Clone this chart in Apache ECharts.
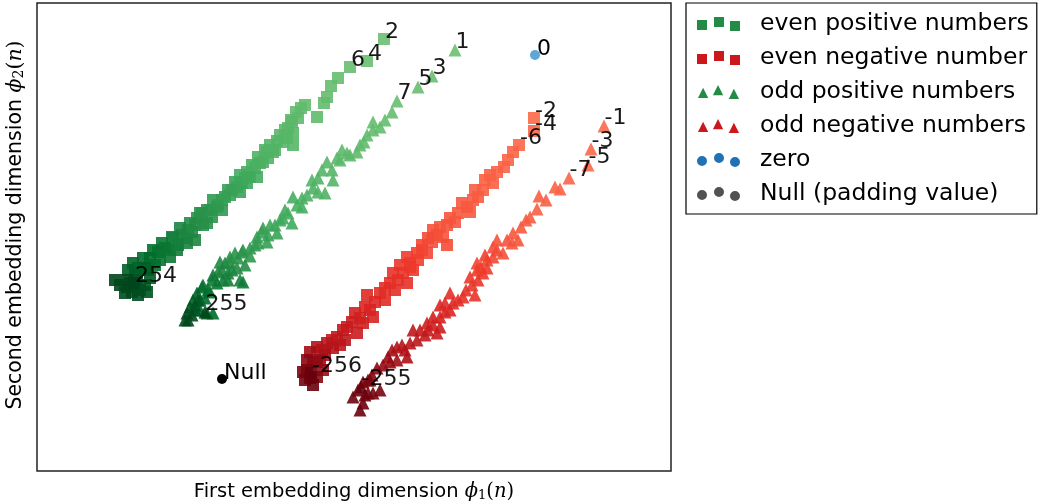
<!DOCTYPE html>
<html>
<head>
<meta charset="utf-8">
<script src="https://cdn.jsdelivr.net/npm/echarts@6/dist/echarts.min.js"></script>
<style>html,body{margin:0;padding:0;background:#fff}#c{width:1039px;height:502px}</style>
</head>
<body>
<div id="c"></div>
<script>
// values: [phi1, phi2, n]
const evenPositive = [
 [384,461,2],[367,439,4],[350,433,6],[338,422,8],[331,414,10],[327,403,12],[324,397,14],[301,392,16],
 [317,383,18],[298,382,20],[291,380,22],[292,378,24],[285,370,26],[283,358,28],[293,367,30],[293,355,32],
 [277,359,34],[273,348,36],[267,348,38],[265,350,40],[263,338,44],[260,337,48],[252,335,52],[247,328,56],
 [257,323,60],[245,322,64],[247,317,68],[242,317,72],[237,313,76],[232,310,80],[228,310,84],[225,303,88],
 [218,295,94],[217,293,98],[210,290,102],[207,290,106],[202,287,110],[200,287,114],[207,277,118],[195,275,122],
 [190,277,126],[188,270,132],[182,265,138],[180,272,142],[187,257,146],[173,262,150],[172,263,154],[177,250,160],
 [170,243,166],[162,257,172],[165,252,176],[158,248,180],[153,250,184],[150,242,190],[143,242,196],[148,230,200],
 [133,237,206],[145,232,210],[128,230,214],[135,225,218],[150,222,222],[140,210,226],[137,220,230],[145,215,234],
 [132,208,238],[138,205,242],[125,207,246],[127,213,248],[127,220,250],[115,220,252],[134,217,254],
 [305,395,15],[296,388,17],[288,372,25],[280,365,29],[287,362,31],[270,355,37],[275,350,39],[258,343,42],
 [268,342,43],[255,332,50],[240,325,62],[250,323,66],[235,318,74],[240,308,78],[230,305,82],[222,300,90],
 [213,300,96],[222,290,100],[212,283,108],[197,282,116],[203,275,120],[192,268,130],[185,262,136],[195,260,140],
 [178,255,156],[168,250,164],[160,240,174],[155,235,186],[138,232,204],[130,217,244],[147,208,232],[120,215,250]
];
const evenNegative = [
 [534,382,-2],[534,369,-4],[519,355,-6],[513,348,-8],[504,333,-10],[490,325,-12],[485,320,-14],[483,310,-16],
 [475,310,-18],[473,300,-20],[467,293,-22],[462,297,-24],[455,278,-26],[450,282,-28],[443,263,-30],[440,273,-32],
 [433,270,-34],[432,258,-38],[428,262,-42],[422,255,-46],[422,250,-50],[417,247,-54],[418,240,-58],[407,243,-62],
 [410,237,-66],[410,233,-70],[400,235,-74],[403,227,-78],[393,227,-82],[407,217,-86],[390,217,-90],[385,212,-94],
 [380,207,-98],[367,205,-104],[375,198,-110],[365,193,-116],[373,183,-122],[355,187,-128],[363,177,-134],[352,178,-140],
 [357,167,-148],[343,170,-156],[337,163,-164],[345,160,-170],[327,157,-178],[333,152,-184],[317,153,-192],[325,145,-198],
 [310,148,-206],[323,130,-214],[317,138,-220],[307,140,-226],[317,123,-232],[307,130,-238],[305,120,-244],[310,122,-250],
 [311,127,-256],
 [508,340,-9],[497,328,-11],[493,317,-13],[478,303,-19],[470,288,-23],[458,287,-25],[447,275,-31],[437,265,-36],
 [447,255,-40],[427,247,-48],[413,230,-72],[398,220,-88],[395,210,-92],[385,200,-100],[370,190,-118],[360,182,-130],
 [347,173,-150],[332,160,-160],[340,155,-168],[322,150,-186],[320,140,-210],[313,138,-218],[303,128,-240],[313,115,-252]
];
const oddPositive = [
 [455,450,1],[432,424,3],[418,413,5],[397,399,7],[392,388,9],[385,380,11],[373,378,13],[373,370,15],
 [364,358,17],[357,348,19],[347,347,21],[342,350,23],[340,340,25],[337,342,27],[327,338,29],[332,330,31],
 [333,320,35],[318,322,39],[325,307,43],[313,312,47],[302,302,51],[293,303,55],[302,293,59],[285,290,63],
 [292,277,67],[280,280,71],[270,275,75],[277,267,79],[262,268,83],[263,272,87],[267,258,91],[257,263,95],
 [255,255,99],[250,252,103],[243,250,107],[242,248,111],[235,247,115],[230,243,119],[245,235,123],[237,232,127],
 [225,237,131],[220,238,135],[232,230,139],[222,230,143],[228,227,147],[240,220,151],[228,220,155],[223,220,159],
 [243,218,163],[213,225,167],[217,217,171],[203,215,175],[208,210,181],[202,213,187],[213,187,193],[207,187,199],
 [200,190,205],[197,207,211],[193,200,217],[198,200,223],[190,193,229],[195,195,235],[187,187,241],[192,185,245],
 [188,180,251],[205,188,255],
 [380,373,13],[367,365,17],[360,355,19],[350,345,23],[322,330,33],[312,320,37],[318,308,41],[307,305,45],
 [297,295,53],[288,287,57],[283,282,61],[275,275,73],[268,265,81],[258,257,93],[250,244,101],[238,242,109],
 [230,238,117],[218,228,141],[212,220,165],[210,208,177],[205,202,195],[200,200,201],[195,190,225],[185,180,247]
];
const oddNegative = [
 [604,374,-1],[591,351,-3],[588,335,-5],[569,322,-7],[560,311,-9],[555,313,-11],[546,300,-13],[539,304,-15],
 [537,291,-17],[530,283,-19],[526,280,-21],[521,273,-23],[513,267,-25],[518,260,-27],[512,257,-29],[497,260,-31],
 [503,247,-35],[493,253,-39],[493,243,-47],[487,240,-51],[477,237,-55],[481,233,-59],[477,230,-63],[483,227,-67],
 [470,223,-71],[478,220,-75],[475,205,-81],[463,203,-87],[450,207,-93],[458,200,-99],[445,197,-105],[440,195,-111],
 [450,190,-117],[440,183,-123],[433,183,-129],[427,177,-135],[440,173,-141],[437,167,-147],[428,170,-153],[420,170,-159],
 [413,170,-165],[417,160,-171],[410,157,-177],[402,155,-183],[397,153,-189],[407,143,-195],[392,150,-201],[397,140,-207],
 [388,143,-213],[383,135,-219],[377,132,-225],[372,125,-231],[368,120,-235],[363,118,-239],[380,110,-241],[373,107,-243],
 [368,107,-245],[358,110,-247],[353,103,-249],[363,97,-251],[360,90,-253],[361,113,-255],
 [507,260,-33],[497,250,-45],[485,245,-57],[487,232,-65],[472,215,-77],[466,210,-83],[453,197,-101],[445,188,-113],
 [433,175,-137],[425,165,-161],[405,150,-191],[390,138,-215],[370,120,-237],[365,105,-249]
];
const zeroPoint = [[535,445,0]];
const nullPoint = [[222,121]];

const evenPositiveLabels = [2,4,6,254];
const evenNegativeLabels = [-2,-4,-6,-256];
const oddPositiveLabels = [1,3,5,7,255];
const oddNegativeLabels = [-1,-3,-5,-7,-255];
const zeroLabels = [0];
const nullLabel = 'Null';

const seriesNames = ['even positive numbers','even negative number','odd positive numbers','odd negative numbers','zero','Null (padding value)'];
const legendColors = ['#238b45','#cb181d','#238b45','#cb181d','#2171b5','#525252'];

const xLabel = 'First embedding dimension ';
const yLabel = 'Second embedding dimension ';

function build(arr, labels) {
  return arr.slice().sort((a, b) => Math.abs(a[2]) - Math.abs(b[2])).map(d => {
    const o = {value: d};
    if (labels.indexOf(d[2]) >= 0) o.label = {show: true, formatter: String(d[2])};
    return o;
  });
}

const SQ = 'path://M0,3h10v10h-10Z M17,0h10v10h-10Z M33,4h10v10h-10Z';
const TRI = 'path://M0,14L5.5,3L11,14Z M16,11L21.5,0L27,11Z M33,15L38.5,4L44,15Z';
const CIR = 'path://M0,8a5,5 0 1,0 10,0a5,5 0 1,0 -10,0Z M17,5a5,5 0 1,0 10,0a5,5 0 1,0 -10,0Z M33,9a5,5 0 1,0 10,0a5,5 0 1,0 -10,0Z';
const icons = [SQ, SQ, TRI, TRI, CIR, CIR];

const labelStyle = {
  show: false, position: [7, 10], align: 'left', verticalAlign: 'bottom',
  color: '#000', fontSize: 22, fontFamily: 'DejaVu Sans'
};

function richFor(size) {
  return {
    m: {fontFamily: 'DejaVu Serif', fontStyle: 'italic', fontSize: size, color: '#000'},
    s: {fontFamily: 'DejaVu Serif', fontSize: Math.round(size * 0.67), verticalAlign: 'bottom', color: '#000'},
    p: {fontFamily: 'DejaVu Serif', fontSize: size, color: '#000'}
  };
}

function scatter(name, data, symbol, size) {
  return {
    type: 'scatter', name: name, data: data, symbol: symbol, symbolSize: size,
    itemStyle: {opacity: 0.9},
    label: labelStyle,
    emphasis: {disabled: true}
  };
}

const chart = echarts.init(document.getElementById('c'), null, {renderer: 'canvas'});
chart.setOption({
  animation: false,
  backgroundColor: '#fff',
  grid: {left: 37, right: 368, top: 3, bottom: 31, containLabel: false, outerBoundsMode: 'none',
         show: true, borderColor: '#222', borderWidth: 1.5, backgroundColor: 'transparent'},
  xAxis: {
    type: 'value', min: 37, max: 671,
    axisLine: {show: false}, axisTick: {show: false}, axisLabel: {show: false}, splitLine: {show: false},
    name: xLabel + '{m|ϕ}{s|1}{p|(}{m|n}{p|)}', nameLocation: 'middle', nameGap: 11,
    nameTextStyle: {fontSize: 19.5, fontFamily: 'DejaVu Sans', color: '#000', rich: richFor(19.5)}
  },
  yAxis: {
    type: 'value', min: 29, max: 497,
    axisLine: {show: false}, axisTick: {show: false}, axisLabel: {show: false}, splitLine: {show: false},
    name: yLabel + '{m|ϕ}{s|2}{p|(}{m|n}{p|)}', nameLocation: 'middle', nameGap: 11,
    nameTextStyle: {fontSize: 20.5, fontFamily: 'DejaVu Sans', color: '#000', rich: richFor(20.5), padding: [0, 0, 0, 24]}
  },
  legend: {
    orient: 'vertical', left: 686, top: 3,
    padding: [9, 8, 8, 11],
    itemGap: 10, itemWidth: 43, itemHeight: 14,
    borderColor: '#000', borderWidth: 1.2,
    textStyle: {fontSize: 23.5, fontFamily: 'DejaVu Sans', color: '#000', lineHeight: 24, padding: [0, 0, 0, 15]},
    selectedMode: false,
    data: seriesNames.map((n, i) => ({name: n, icon: icons[i], itemStyle: {color: legendColors[i], opacity: 1}}))
  },
  visualMap: [
    {type: 'continuous', show: false, seriesIndex: [0, 2], dimension: 2, min: 0, max: 256,
     inRange: {color: ['#6cc072', '#41ab5d', '#238b45', '#006d2c', '#00441b']}},
    {type: 'continuous', show: false, seriesIndex: [1, 3], dimension: 2, min: -256, max: 0,
     inRange: {color: ['#67000d', '#b11218', '#d42020', '#ef3b2c', '#fb6a4a']}}
  ],
  series: [
    scatter(seriesNames[0], build(evenPositive, evenPositiveLabels), 'rect', 12),
    scatter(seriesNames[1], build(evenNegative, evenNegativeLabels), 'rect', 12),
    scatter(seriesNames[2], build(oddPositive, oddPositiveLabels), 'triangle', 13),
    scatter(seriesNames[3], build(oddNegative, oddNegativeLabels), 'triangle', 13),
    Object.assign(scatter(seriesNames[4], build(zeroPoint, zeroLabels), 'circle', 10), {itemStyle: {color: '#5fa5d8', opacity: 1}}),
    Object.assign(scatter(seriesNames[5], nullPoint.map(d => ({value: d, label: {show: true, formatter: nullLabel}})), 'circle', 10), {itemStyle: {color: '#000', opacity: 1}})
  ]
});
</script>
</body>
</html>
